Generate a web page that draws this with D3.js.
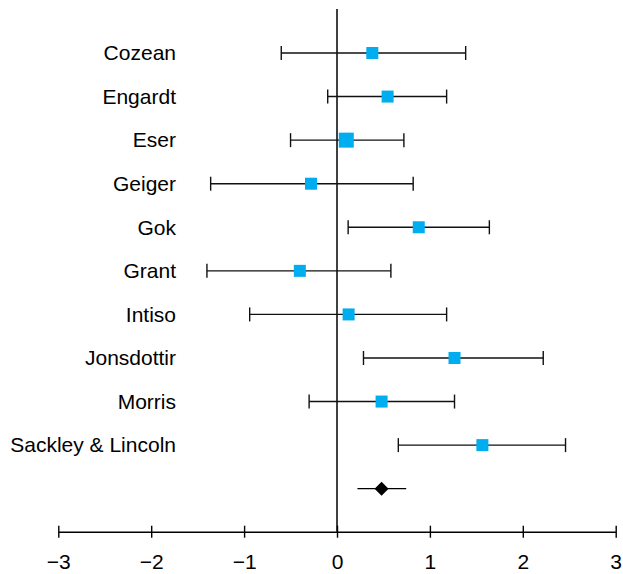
<!DOCTYPE html>
<html>
<head>
<meta charset="utf-8">
<script src="https://cdn.jsdelivr.net/npm/d3@7"></script>
<style>
  html, body { margin: 0; padding: 0; background: #fff; }
  svg { display: block; font-family: "Liberation Sans", Arial, Helvetica, sans-serif; }
</style>
</head>
<body>
<svg id="chart" width="623" height="574"></svg>
<script>
// ---- data ----
const studies = ["Cozean", "Engardt", "Eser", "Geiger", "Gok", "Grant", "Intiso", "Jonsdottir", "Morris", "Sackley & Lincoln"];
const estimates = [0.38, 0.545, 0.10, -0.28, 0.88, -0.40, 0.125, 1.265, 0.48, 1.565];
const lower     = [-0.60, -0.10, -0.50, -1.36, 0.12, -1.40, -0.94, 0.285, -0.30, 0.66];
const upper     = [1.385, 1.18, 0.72, 0.82, 1.64, 0.58, 1.18, 2.22, 1.265, 2.46];
const weights   = [1, 1, 1.25, 1, 1, 1, 1, 1, 1, 1];
const pooled = { estimate: 0.48, lower: 0.22, upper: 0.745 };
const xTicks = [-3, -2, -1, 0, 1, 2, 3];

// ---- layout ----
const svg = d3.select("#chart");
const x = d3.scaleLinear().domain([-3, 3]).range([58.3, 615.7]);
const rowKeys = studies.concat(["__pooled__"]);
const y = d3.scalePoint().domain(rowKeys).range([53, 488.7]);
const axisY = 531.7;
const sizeScale = d3.scaleLinear().domain([0, 1]).range([0, 12]);
const capH = 7;
const blue = "#00adef";

// zero line
svg.append("line")
  .attr("x1", x(0)).attr("x2", x(0))
  .attr("y1", 9).attr("y2", axisY)
  .attr("stroke", "#000").attr("stroke-width", 1.5);

// study rows
const rows = studies.map((s, i) => ({ s, est: estimates[i], lo: lower[i], hi: upper[i], w: weights[i] }));
const g = svg.append("g");
const row = g.selectAll("g.row").data(rows).join("g").attr("class", "row");

row.append("line")
  .attr("x1", d => x(d.lo)).attr("x2", d => x(d.hi))
  .attr("y1", d => y(d.s)).attr("y2", d => y(d.s))
  .attr("stroke", "#111").attr("stroke-width", 1.4);
row.append("line")
  .attr("x1", d => x(d.lo)).attr("x2", d => x(d.lo))
  .attr("y1", d => y(d.s) - capH).attr("y2", d => y(d.s) + capH)
  .attr("stroke", "#111").attr("stroke-width", 1.4);
row.append("line")
  .attr("x1", d => x(d.hi)).attr("x2", d => x(d.hi))
  .attr("y1", d => y(d.s) - capH).attr("y2", d => y(d.s) + capH)
  .attr("stroke", "#111").attr("stroke-width", 1.4);
row.append("rect")
  .attr("x", d => x(d.est) - sizeScale(d.w) / 2)
  .attr("y", d => y(d.s) - sizeScale(d.w) / 2)
  .attr("width", d => sizeScale(d.w))
  .attr("height", d => sizeScale(d.w))
  .attr("fill", blue);
row.append("text")
  .attr("x", 176)
  .attr("y", d => y(d.s))
  .attr("dy", "0.35em")
  .attr("text-anchor", "end")
  .attr("font-size", 21)
  .attr("fill", "#000")
  .text(d => d.s);

// pooled estimate
const py = y("__pooled__");
svg.append("line")
  .attr("x1", x(pooled.lower)).attr("x2", x(pooled.upper))
  .attr("y1", py).attr("y2", py)
  .attr("stroke", "#000").attr("stroke-width", 1.2);
const px = x(pooled.estimate);
svg.append("path")
  .attr("d", `M${px - 7},${py} L${px},${py - 7} L${px + 7},${py} L${px},${py + 7} Z`)
  .attr("fill", "#000");

// axis
const axis = d3.axisBottom(x).tickValues(xTicks).tickFormat(d3.format("d"))
  .tickSizeInner(6).tickSizeOuter(0).tickPadding(0);
const ag = svg.append("g").attr("transform", `translate(0,${axisY})`).call(axis);
ag.select(".domain").attr("stroke", "#000").attr("stroke-width", 1.4);
ag.selectAll(".tick line").attr("y1", -6).attr("y2", 6).attr("stroke", "#000").attr("stroke-width", 1.4);
ag.selectAll(".tick text")
  .attr("y", 22).attr("dy", "0.71em")
  .attr("font-size", 21)
  .attr("font-family", "'Liberation Sans', Arial, Helvetica, sans-serif")
  .attr("fill", "#000");
</script>
</body>
</html>
